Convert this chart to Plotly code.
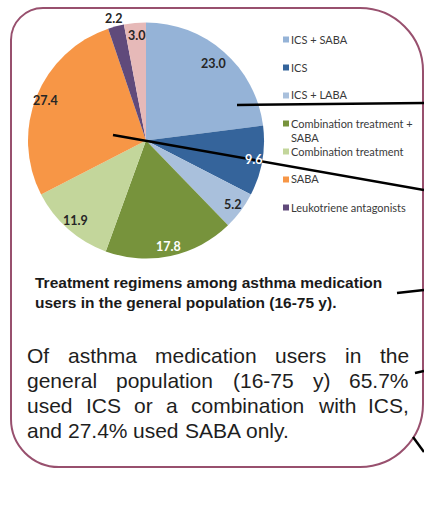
import math
import plotly.graph_objects as go

W, H = 424, 520

# ---------------- data ----------------
categories = ["ICS + SABA", "ICS", "ICS + LABA", "Combination treatment + SABA",
              "Combination treatment", "SABA", "Leukotriene antagonists", "Other"]
values = [23.0, 9.6, 5.2, 17.8, 11.9, 27.4, 2.2, 3.0]
value_labels = ["23.0", "9.6", "5.2", "17.8", "11.9", "27.4", "2.2", "3.0"]
legend_labels = ["ICS + SABA", "ICS", "ICS + LABA", "Combination treatment +<br>SABA",
                 "Combination treatment", "SABA", "Leukotriene antagonists"]
caption = "Treatment regimens among asthma medication<br>users in the general population (16-75 y)."
body_lines = ["Of asthma medication users in the",
              "general population (16-75 y) 65.7%",
              "used ICS or a combination with ICS,",
              "and 27.4% used SABA only."]

# ---------------- styles ----------------
colors = ["#95b3d7", "#35649b", "#a9c0dc", "#77933c", "#c3d69b", "#f79646", "#604a7b", "#e6b9b8"]
label_colors = ["#262626", "#ffffff", "#262626", "#ffffff", "#262626", "#262626", "#262626", "#262626"]
label_radius = [0.87, 0.925, 0.915, 0.92, 0.9, 0.915, 1.07, 0.89]

def px(x):
    return x / W

def py(y):
    return 1 - y / H

cx, cy, R = 146, 140.5, 118

fig = go.Figure()
fig.add_trace(go.Pie(
    labels=categories, values=values, sort=False, direction="clockwise", rotation=0,
    marker=dict(colors=colors, line=dict(width=0)),
    textinfo="none", showlegend=False, hoverinfo="label+value",
    domain=dict(x=[px(cx - R), px(cx + R)], y=[py(cy + R), py(cy - R)]),
))

annotations = []
shapes = []

# pie value labels, positioned from cumulative values
total = sum(values)
cum = 0.0
for v, lab, col, rf in zip(values, value_labels, label_colors, label_radius):
    mid = (cum + v / 2) / total * 2 * math.pi
    cum += v
    lx = cx + rf * R * math.sin(mid)
    ly = cy - rf * R * math.cos(mid)
    annotations.append(dict(x=px(lx), y=py(ly), xref="paper", yref="paper", text=lab,
                            showarrow=False, xanchor="center", yanchor="middle",
                            font=dict(family="Lato", size=12.5, color=col, weight="bold")))

# legend (manual, Excel-like)
leg_x, leg_y0, leg_dy = 283, 39.5, 28
for i, (lab, col) in enumerate(zip(legend_labels, colors)):
    yy = leg_y0 + i * leg_dy
    shapes.append(dict(type="rect", xref="paper", yref="paper",
                       x0=px(leg_x), x1=px(leg_x + 6), y0=py(yy - 3), y1=py(yy + 3),
                       fillcolor=col, line=dict(width=0)))
    annotations.append(dict(x=px(leg_x + 6), y=py(yy - 9), xref="paper", yref="paper",
                            text=lab, showarrow=False, xanchor="left", yanchor="top",
                            align="left",
                            font=dict(family="Lato", size=11, color="#3a3a3a")))

# caption
annotations.append(dict(x=px(33), y=py(292.5), xref="paper", yref="paper", text=caption,
                        showarrow=False, xanchor="left", yanchor="middle", align="left",
                        font=dict(family="Liberation Sans", size=15.5, color="#1a1a1a",
                                  weight="bold")))

# body text, justified using Arial metrics
AW = {' ': 278, '%': 889, '(': 333, ')': 333, ',': 278, '-': 333, '.': 278,
      'A': 667, 'B': 667, 'C': 722, 'I': 278, 'O': 778, 'S': 667,
      'a': 556, 'b': 556, 'c': 500, 'd': 556, 'e': 556, 'f': 278, 'g': 556, 'h': 556,
      'i': 222, 'l': 222, 'm': 833, 'n': 556, 'o': 556, 'p': 556, 'r': 333, 's': 500,
      't': 278, 'u': 556, 'w': 722, 'y': 500, 'v': 500, 'k': 500}
for d in "0123456789":
    AW[d] = 556
fs = 21

def tw(s):
    return sum(AW.get(c, 556) for c in s) / 1000 * fs

left, right = 27, 409
base_y = [355, 380, 405, 430]
for li, (line, yy) in enumerate(zip(body_lines, base_y)):
    words = line.split(" ")
    if li < len(body_lines) - 1:
        gap = (right - left - sum(tw(w) for w in words)) / (len(words) - 1)
    else:
        gap = tw(" ")
    x = left
    for w in words:
        annotations.append(dict(x=px(x - 2), y=py(yy), xref="paper", yref="paper", text=w,
                                showarrow=False, xanchor="left", yanchor="middle",
                                font=dict(family="Liberation Sans", size=fs, color="#1e1e1e")))
        x += tw(w) + gap

# frame
x0, x1, y0, y1 = 11, 423, 8, 467
rtl, rtr, rbr, rbl = 32, 63, 63, 48
k = 0.5523

def P(x, y):
    return f"{px(x):.5f},{py(y):.5f}"

path = (f"M {P(x0 + rtl, y0)} L {P(x1 - rtr, y0)} "
        f"C {P(x1 - rtr + k * rtr, y0)} {P(x1, y0 + rtr - k * rtr)} {P(x1, y0 + rtr)} "
        f"L {P(x1, y1 - rbr)} "
        f"C {P(x1, y1 - rbr + k * rbr)} {P(x1 - rbr + k * rbr, y1)} {P(x1 - rbr, y1)} "
        f"L {P(x0 + rbl, y1)} "
        f"C {P(x0 + rbl - k * rbl, y1)} {P(x0, y1 - rbl + k * rbl)} {P(x0, y1 - rbl)} "
        f"L {P(x0, y0 + rtl)} "
        f"C {P(x0, y0 + rtl - k * rtl)} {P(x0 + rtl - k * rtl, y0)} {P(x0 + rtl, y0)} Z")
shapes.append(dict(type="path", xref="paper", yref="paper", path=path,
                   line=dict(color="#98506e", width=2), layer="below"))

# callout lines
for (ax0, ay0, ax1, ay1) in [(237, 105, 424, 103), (113, 135, 424, 190),
                             (397, 293, 424, 290), (415, 373, 424, 371),
                             (413, 437, 424, 452)]:
    shapes.append(dict(type="line", xref="paper", yref="paper",
                       x0=px(ax0), y0=py(ay0), x1=px(ax1), y1=py(ay1),
                       line=dict(color="#000000", width=2.5), layer="above"))

fig.update_layout(width=W, height=H, margin=dict(l=0, r=0, t=0, b=0),
                  paper_bgcolor="white", plot_bgcolor="white",
                  annotations=annotations, shapes=shapes, showlegend=False)
fig.write_html("out.html")
